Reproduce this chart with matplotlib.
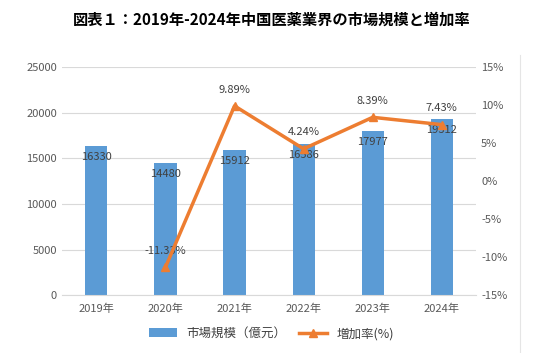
import matplotlib
matplotlib.use("Agg")
import matplotlib.pyplot as plt
from matplotlib.lines import Line2D

plt.rcParams["font.family"] = ["Noto Sans CJK JP", "DejaVu Sans"]

BLUE = "#5B9BD5"
ORANGE = "#ED7D31"
GRAY = "#595959"
GRID = "#D9D9D9"

years = ["2019年", "2020年", "2021年", "2022年", "2023年", "2024年"]
market = [16330, 14480, 15912, 16586, 17977, 19312]
growth = [None, -11.33, 9.89, 4.24, 8.39, 7.43]

fig = plt.figure(figsize=(5.43, 3.53), dpi=100)
ax = fig.add_axes([0.114, 0.164, 0.763, 0.646])
ax2 = ax.twinx()

x = list(range(len(years)))
ax.bar(x, market, width=0.32, color=BLUE, zorder=2, label="市場規模（億元）")
for xi, v in zip(x, market):
    ax.text(xi, v - 650, str(v), ha="center", va="top", fontsize=8, color="#404040", zorder=3)

gx = [xi for xi, g in zip(x, growth) if g is not None]
gy = [g for g in growth if g is not None]
ax2.plot(gx, gy, color=ORANGE, lw=2.5, marker="^", ms=6, zorder=4, label="増加率(%)")
for xi, g in zip(gx, gy):
    ax2.text(xi, g + 1.5, f"{g:.2f}%", ha="center", va="bottom", fontsize=8, color="#404040")

ax.set_xlim(-0.5, len(years) - 0.5)
ax.set_ylim(0, 25000)
ax.set_yticks(range(0, 25001, 5000))
ax2.set_ylim(-15, 15)
ax2.set_yticks(range(-15, 16, 5))
ax2.set_yticklabels([f"{t}%" for t in range(-15, 16, 5)])

ax.set_xticks(x, years)
ax.grid(axis="y", color=GRID, lw=0.8, zorder=0)
ax.set_axisbelow(True)
for a in (ax, ax2):
    for s in a.spines.values():
        s.set_visible(False)
    a.tick_params(length=0, labelsize=8, colors=GRAY)
ax.spines["bottom"].set_visible(True)
ax.spines["bottom"].set_color(GRID)
ax.tick_params(axis="x", pad=6)
ax.set_zorder(ax2.get_zorder() - 1)
ax.patch.set_visible(False)
ax2.patch.set_visible(False)

fig.text(0.5, 0.945, "図表１：2019年-2024年中国医薬業界の市場規模と増加率",
         ha="center", va="center", fontsize=11, fontweight="bold", color="black")

h1, l1 = ax.get_legend_handles_labels()
h2, l2 = ax2.get_legend_handles_labels()
fig.legend(h1 + h2, l1 + l2, loc="center", bbox_to_anchor=(0.5, 0.055), ncol=2,
           frameon=False, fontsize=9, handlelength=2.2, columnspacing=1.0,
           labelcolor="#404040")

fig.add_artist(Line2D([0.958, 0.958], [0.0, 0.845], color="#E5E5E5", lw=0.8))

fig.savefig("out.png", dpi=100)
